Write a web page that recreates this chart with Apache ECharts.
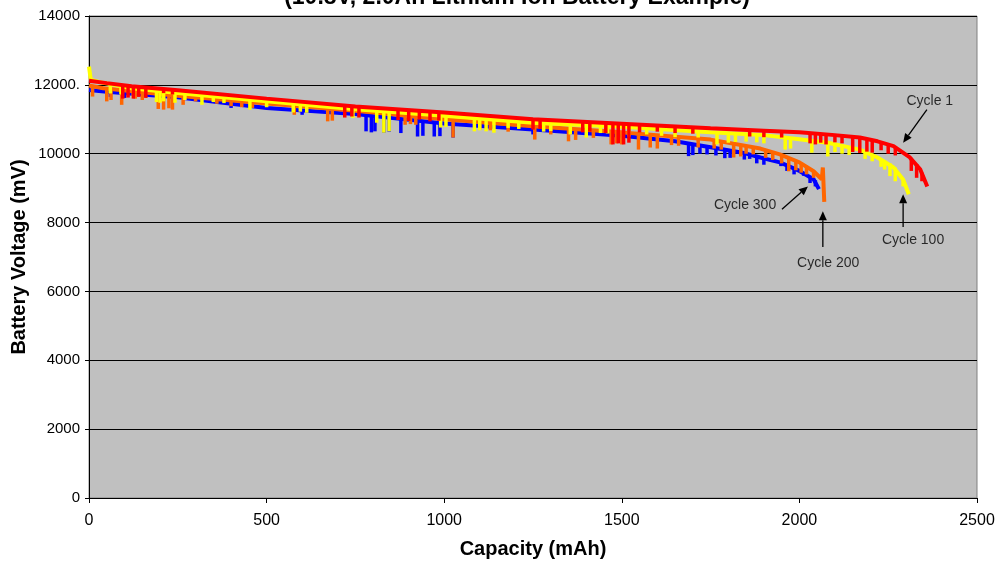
<!DOCTYPE html>
<html>
<head>
<meta charset="utf-8">
<title>Battery Voltage vs Capacity</title>
<script src="https://cdn.jsdelivr.net/npm/echarts@6/dist/echarts.min.js"></script>
<style>
  html, body { margin: 0; padding: 0; background: #fff; }
  #chart { width: 1003px; height: 568px; }
</style>
</head>
<body>
<div id="chart"></div>
<script>
// tick labels (the 12000 label really has a trailing dot in the original)
const yTickLabels = ['0', '2000', '4000', '6000', '8000', '10000', '12000.', '14000']

// discharge curves: [capacity mAh, voltage mV]
const cycle1 = [
  [0, 12120], [50, 12050], [120, 11960], [250, 11840], [500, 11600], [750, 11370],
  [1000, 11200], [1250, 11000], [1500, 10870], [1750, 10740], [1900, 10670],
  [2000, 10620], [2100, 10540], [2170, 10470], [2220, 10360], [2265, 10220],
  [2310, 9900], [2340, 9550], [2360, 9050]
]
const cycle100 = [
  [0, 12530], [5, 12150], [30, 12080], [120, 11900], [250, 11760], [500, 11520],
  [750, 11290], [1000, 11100], [1250, 10900], [1500, 10780], [1750, 10620],
  [1900, 10540], [2000, 10420], [2080, 10320], [2170, 10120], [2220, 9890],
  [2265, 9600], [2292, 9250], [2308, 8820]
]
const cycle200 = [
  [0, 11980], [40, 11900], [250, 11680], [500, 11460], [750, 11250], [1000, 11000],
  [1250, 10800], [1500, 10620], [1750, 10410], [1890, 10150], [1945, 9980],
  [2000, 9750], [2040, 9490], [2063, 9260], [2066, 9600], [2070, 8600]
]
const cycle300 = [
  [0, 11850], [50, 11800], [250, 11640], [500, 11330], [750, 11150], [1000, 10880],
  [1250, 10700], [1500, 10520], [1650, 10360], [1750, 10190], [1840, 10030],
  [1890, 9890], [1945, 9750], [2000, 9500], [2040, 9260], [2055, 8970]
]

// load pulses (downward spikes): [capacity, top mV, bottom mV]
const spikes1 = [
  [95, 11970, 11600], [110, 11960, 11630], [125, 11950, 11600], [140, 11940, 11650],
  [160, 11920, 11620], [210, 11880, 11760], [235, 11860, 11720], [720, 11390, 11050],
  [740, 11380, 11080], [760, 11370, 11050], [870, 11300, 10980], [900, 11280, 10950],
  [930, 11260, 10990], [960, 11230, 10940], [985, 11210, 10960], [1250, 11000, 10700],
  [1270, 10990, 10720], [1390, 10930, 10620], [1410, 10920, 10640], [1455, 10900, 10600],
  [1475, 10890, 10270], [1490, 10880, 10300], [1505, 10875, 10270], [1520, 10870, 10320],
  [1550, 10850, 10620], [1600, 10830, 10640], [1650, 10800, 10600], [1700, 10770, 10580],
  [1860, 10690, 10500], [1900, 10670, 10480], [1950, 10650, 10470], [2030, 10600, 10300],
  [2045, 10590, 10270], [2060, 10580, 10320], [2075, 10560, 10270], [2100, 10540, 10330],
  [2120, 10520, 10300], [2150, 10490, 10050], [2170, 10470, 10020], [2190, 10430, 10060],
  [2205, 10400, 10030], [2230, 10330, 10100], [2250, 10250, 10000], [2270, 10200, 9950],
  [2315, 9880, 9500], [2330, 9700, 9300], [2345, 9450, 9200]
]
const spikes100 = [
  [60, 12000, 11750], [90, 11950, 11720], [125, 11900, 11620], [190, 11830, 11500],
  [200, 11820, 11480], [210, 11810, 11520], [242, 11780, 11480], [270, 11740, 11560],
  [318, 11720, 11420], [350, 11690, 11500], [380, 11670, 11470], [453, 11580, 11280],
  [500, 11520, 11350], [575, 11460, 11200], [595, 11450, 11220], [613, 11430, 11190],
  [743, 11300, 11040], [810, 11260, 10900], [830, 11240, 10610], [845, 11230, 10650],
  [990, 11110, 10760], [1005, 11100, 10780], [1085, 11030, 10650], [1100, 11020, 10680],
  [1118, 11000, 10650], [1140, 10990, 10610], [1180, 10960, 10750], [1210, 10940, 10720],
  [1280, 10900, 10640], [1300, 10890, 10660], [1355, 10860, 10560], [1400, 10840, 10470],
  [1440, 10820, 10600], [1460, 10810, 10590], [1520, 10770, 10500], [1570, 10740, 10560],
  [1612, 10720, 10520], [1650, 10690, 10480], [1715, 10640, 10470], [1768, 10610, 10270],
  [1800, 10590, 10320], [1820, 10580, 10340], [1850, 10570, 10350], [1880, 10550, 10330],
  [1900, 10540, 10300], [1960, 10470, 10120], [1975, 10460, 10150], [2035, 10370, 10030],
  [2080, 10320, 9920], [2100, 10280, 10050], [2120, 10240, 10000], [2140, 10190, 9960],
  [2185, 10070, 9850], [2205, 10000, 9780], [2230, 9850, 9620], [2240, 9800, 9540],
  [2255, 9720, 9350], [2270, 9600, 9200], [2292, 9250, 9050]
]
const spikes200 = [
  [10, 11970, 11660], [50, 11890, 11520], [62, 11880, 11560], [92, 11850, 11420],
  [130, 11800, 11600], [150, 11790, 11560], [195, 11740, 11300], [210, 11730, 11280],
  [225, 11710, 11320], [235, 11700, 11280], [265, 11660, 11420], [300, 11640, 11520],
  [360, 11590, 11450], [400, 11560, 11380], [430, 11540, 11350], [460, 11500, 11330],
  [578, 11380, 11130], [672, 11300, 10940], [685, 11290, 10960], [890, 11120, 10840],
  [905, 11100, 10860], [920, 11090, 10840], [1025, 10990, 10470], [1100, 10920, 10700],
  [1130, 10900, 10680], [1180, 10860, 10640], [1255, 10800, 10410], [1300, 10760, 10560],
  [1350, 10720, 10360], [1370, 10710, 10400], [1420, 10680, 10460], [1470, 10640, 10270],
  [1485, 10630, 10300], [1500, 10620, 10270], [1547, 10590, 10120], [1580, 10560, 10180],
  [1600, 10550, 10150], [1640, 10500, 10250], [1660, 10490, 10230], [1715, 10450, 10180],
  [1760, 10390, 10150], [1780, 10360, 10120], [1815, 10320, 9890], [1835, 10280, 9920],
  [1850, 10250, 10000], [1870, 10210, 9980], [1905, 10120, 9880], [1925, 10070, 9820],
  [1950, 9960, 9720], [1970, 9880, 9490], [1990, 9800, 9520], [2005, 9740, 9450],
  [2020, 9650, 9400], [2040, 9490, 9300]
]
const spikes300 = [
  [30, 11830, 11770], [60, 11790, 11650], [100, 11760, 11620], [400, 11450, 11330],
  [600, 11250, 11130], [780, 11120, 10650], [795, 11110, 10620], [805, 11100, 10650],
  [830, 11080, 10610], [845, 11070, 10640], [878, 11040, 10600], [925, 10990, 10500],
  [940, 10970, 10520], [972, 10900, 10500], [988, 10890, 10510], [1025, 10860, 10470],
  [1250, 10700, 10560], [1688, 10300, 9930], [1700, 10280, 9960], [1720, 10240, 10000],
  [1740, 10200, 9980], [1765, 10150, 9950], [1790, 10110, 9870], [1805, 10080, 9880],
  [1845, 10020, 9830], [1860, 9990, 9850], [1880, 9920, 9720], [1900, 9860, 9680],
  [1920, 9840, 9780], [1948, 9760, 9640], [1965, 9680, 9500], [1985, 9580, 9400],
  [2012, 9450, 9360], [2030, 9330, 9150], [2045, 9230, 9050]
]

// annotations: text at [capacity, mV], arrows [fromCap, fromMv, toCap, toMv]
const noteLabels = [
  [2367, 11540, 'Cycle 1'],
  [2320, 7490, 'Cycle 100'],
  [2081, 6830, 'Cycle 200'],
  [1847, 8500, 'Cycle 300']
]
const noteArrows = [
  [2359, 11280, 2292, 10320],
  [2292, 7870, 2292, 8820],
  [2066, 7290, 2066, 8330],
  [1951, 8390, 2024, 9050]
]

const colors = { c1: '#FF0000', c100: '#FFFF00', c200: '#FF6600', c300: '#0000FF' }
const FONT = 'Arial, "Liberation Sans", Helvetica, sans-serif'

const chart = echarts.init(document.getElementById('chart'))

function lineSeries(name, data, color, z) {
  return {
    name: name,
    type: 'line',
    data: data,
    showSymbol: false,
    z: z,
    lineStyle: { color: color, width: 4 },
    itemStyle: { color: color },
    animation: false
  }
}

function spikeSeries(name, data, color, z) {
  return {
    name: name + ' pulses',
    type: 'custom',
    data: data,
    z: z,
    encode: { x: 0, y: [1, 2] },
    renderItem: function (params, api) {
      const p1 = api.coord([api.value(0), api.value(1)])
      const p2 = api.coord([api.value(0), api.value(2)])
      return {
        type: 'line',
        shape: { x1: p1[0], y1: p1[1], x2: p2[0], y2: p2[1] },
        style: { stroke: color, lineWidth: 3.5 }
      }
    },
    animation: false
  }
}

// arrow = line + filled head, positioned by data coords
function renderArrow(params, api) {
  const a = api.coord([api.value(0), api.value(1)])
  const b = api.coord([api.value(2), api.value(3)])
  const ang = Math.atan2(b[1] - a[1], b[0] - a[0])
  const len = 9, half = 4
  const bx = b[0] - len * Math.cos(ang), by = b[1] - len * Math.sin(ang)
  const nx = -Math.sin(ang) * half, ny = Math.cos(ang) * half
  return {
    type: 'group',
    children: [
      {
        type: 'line',
        shape: { x1: a[0], y1: a[1], x2: bx, y2: by },
        style: { stroke: '#000', lineWidth: 1.3 }
      },
      {
        type: 'polygon',
        shape: { points: [[b[0], b[1]], [bx + nx, by + ny], [bx - nx, by - ny]] },
        style: { fill: '#000' }
      }
    ]
  }
}

const option = {
  backgroundColor: '#ffffff',
  animation: false,
  graphic: [
    {
      type: 'text',
      x: 517,
      y: 9,
      style: {
        text: '(10.8V, 2.0Ah Lithium Ion Battery Example)',
        font: 'bold 23px ' + FONT,
        fill: '#000',
        textAlign: 'center',
        textVerticalAlign: 'bottom'
      }
    }
  ],
  grid: {
    left: 89,
    right: 26,
    top: 16,
    bottom: 70,
    containLabel: false,
    outerBoundsMode: 'none',
    show: true,
    backgroundColor: '#C0C0C0',
    borderColor: '#808080',
    borderWidth: 1
  },
  xAxis: {
    type: 'value',
    min: 0,
    max: 2500,
    interval: 500,
    name: 'Capacity (mAh)',
    nameLocation: 'middle',
    nameGap: 41,
    nameMoveOverlap: false,
    nameTextStyle: { fontFamily: FONT, fontSize: 20, fontWeight: 'bold', color: '#000' },
    axisLine: { show: true, lineStyle: { color: '#000', width: 1 } },
    axisTick: { show: true, length: 5, lineStyle: { color: '#000' } },
    axisLabel: {
      fontFamily: FONT,
      fontSize: 16,
      color: '#000',
      margin: 15,
      formatter: function (val) { return String(val) }
    },
    splitLine: { show: false }
  },
  yAxis: {
    type: 'value',
    min: 0,
    max: 14000,
    interval: 2000,
    name: 'Battery Voltage (mV)',
    nameLocation: 'middle',
    nameGap: 60,
    nameMoveOverlap: false,
    nameTextStyle: { fontFamily: FONT, fontSize: 20, fontWeight: 'bold', color: '#000' },
    axisLine: { show: true, lineStyle: { color: '#000', width: 1 } },
    axisTick: { show: true, length: 4, lineStyle: { color: '#000' } },
    axisLabel: {
      fontFamily: FONT,
      fontSize: 15,
      color: '#000',
      margin: 9,
      formatter: function (val) {
        return yTickLabels[Math.round(val / 2000)]
      }
    },
    splitLine: { show: true, lineStyle: { color: '#000', width: 1 } }
  },
  series: [
    lineSeries('Cycle 300', cycle300, colors.c300, 2),
    spikeSeries('Cycle 300', spikes300, colors.c300, 2),
    lineSeries('Cycle 200', cycle200, colors.c200, 3),
    spikeSeries('Cycle 200', spikes200, colors.c200, 3),
    lineSeries('Cycle 100', cycle100, colors.c100, 4),
    spikeSeries('Cycle 100', spikes100, colors.c100, 4),
    lineSeries('Cycle 1', cycle1, colors.c1, 5),
    spikeSeries('Cycle 1', spikes1, colors.c1, 5),
    {
      name: 'arrows',
      type: 'custom',
      data: noteArrows,
      z: 6,
      encode: { x: [0, 2], y: [1, 3] },
      renderItem: renderArrow,
      animation: false
    },
    {
      name: 'notes',
      type: 'scatter',
      data: noteLabels,
      symbolSize: 0,
      z: 6,
      label: {
        show: true,
        position: 'inside',
        formatter: function (p) { return p.value[2] },
        fontFamily: FONT,
        fontSize: 14,
        color: '#000'
      },
      animation: false
    }
  ]
}

chart.setOption(option)
</script>
</body>
</html>
